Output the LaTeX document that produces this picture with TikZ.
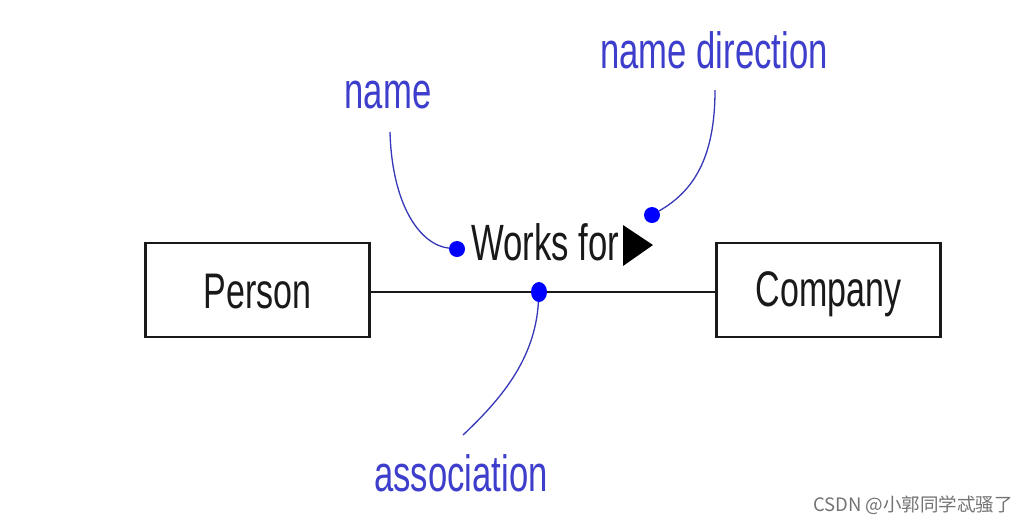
\documentclass[tikz,border=0pt]{standalone}
\usepackage{fontspec}
\setmainfont{Liberation Sans}
\newfontfamily\cjk{Noto Sans CJK SC}
\usepackage{graphicx}
\usetikzlibrary{shapes.geometric}
\newcommand\narrowtxt[1]{\scalebox{0.68}[1]{#1}}
\definecolor{lblue}{RGB}{62,62,205}
\definecolor{dotblue}{RGB}{0,0,255}
\definecolor{curveblue}{RGB}{55,55,185}
\definecolor{ink}{RGB}{25,25,25}
\begin{document}
\begin{tikzpicture}[x=1pt,y=-1pt,
  box/.style={draw=ink, line width=2.2pt, minimum width=224pt, minimum height=94pt,
    inner sep=0pt, text=ink, font=\fontsize{50}{50}\selectfont, text height=36pt, text depth=0pt},
  lbl/.style={text=lblue, font=\fontsize{51}{51}\selectfont, inner sep=0pt, anchor=base},
  dot/.style={circle, fill=dotblue, minimum size=16pt, inner sep=0pt},
  curve/.style={draw=curveblue, line width=1.3pt}]
\useasboundingbox (0,0) rectangle (1032,523);
\fill[white] (0,0) rectangle (1032,523);
% classes
\node[box] (person) at (257.5,290) {\narrowtxt{Person}};
\node[box] (company) at (828.5,290) {\narrowtxt{\raisebox{2pt}{Company}}};
\draw[draw=ink, line width=2.2pt] ([yshift=-2pt]person.east) -- ([yshift=-2pt]company.west);
% association name and direction
\node[text=ink, font=\fontsize{51}{51}\selectfont, inner sep=0pt, anchor=base] (works) at (545,260) {\narrowtxt{Works for}};
\fill[black] (623,225) -- (623,266) -- (653,245) -- cycle;
% dots
\node[dot] (dname) at (457,249) {};
\node[dot] (ddir) at (652,215) {};
\node[dot, minimum width=16pt, minimum height=20pt, ellipse] (dassoc) at (539,292) {};
% labels
\node[lbl] (lname) at (388,108) {\narrowtxt{name}};
\node[lbl] (ldir) at (714,68) {\narrowtxt{name direction}};
\node[lbl] (lassoc) at (461,491) {\narrowtxt{association}};
% leader curves
\coordinate (c1) at (390,132);
\coordinate (c2) at (715,90);
\coordinate (c3) at (463,435);
\draw[curve] (c1) .. controls (392,205) and (420,245) .. (dname);
\draw[curve] (c2) .. controls (715,160) and (692,192) .. (ddir);
\draw[curve] (dassoc) .. controls (535,360) and (500,400) .. (c3);
% watermark
\node[anchor=base, font=\cjk\fontsize{18.5}{18.5}\selectfont, text=black!55, inner sep=0pt] (wm) at (913,511) {CSDN @小郭同学忒骚了};
\end{tikzpicture}
\end{document}
